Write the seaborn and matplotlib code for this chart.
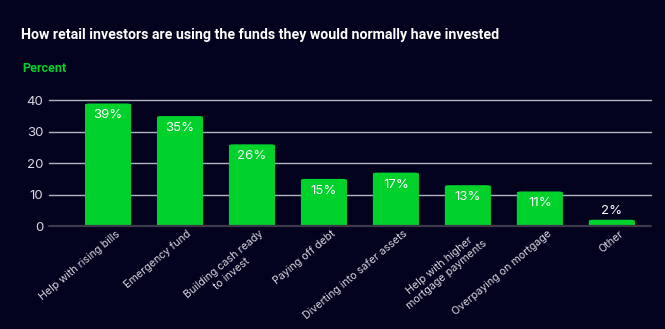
import matplotlib
matplotlib.use("Agg")
import matplotlib.pyplot as plt
import matplotlib.transforms as mtransforms
from matplotlib.patches import FancyBboxPatch
import seaborn as sns
import pandas as pd

categories = ["Help with rising bills", "Emergency fund", "Building cash ready\nto invest",
              "Paying off debt", "Diverting into safer assets",
              "Help with higher\nmortgage payments", "Overpaying on mortgage", "Other"]
values = [39, 35, 26, 15, 17, 13, 11, 2]
yticks = [0, 10, 20, 30, 40]

BG = "#03021e"
GREEN = "#00d12b"
TXT = "#d9d9e0"

sns.set_theme(style="white")
plt.rcParams['font.family'] = ['Inter', 'DejaVu Sans']

df = pd.DataFrame({"cat": categories, "val": values})
fig = plt.figure(figsize=(6.65, 3.29), dpi=100, facecolor=BG)
ax = fig.add_axes([0.0737, 0.313, 0.9048, 0.382])
ax.set_facecolor(BG)
sns.barplot(data=df, x="cat", y="val", color=GREEN, width=0.64, saturation=1, ax=ax, zorder=3)

# rounded bars
for p in list(ax.patches):
    x, y, w, h = p.get_x(), p.get_y(), p.get_width(), p.get_height()
    p.remove()
    rb = FancyBboxPatch((x, y), w, h, boxstyle="round,pad=0,rounding_size=0.06",
                        mutation_aspect=6.5, facecolor=GREEN, edgecolor="none", zorder=3)
    ax.add_patch(rb)
    ax.add_patch(plt.Rectangle((x, y), w, min(h, 1.0), facecolor=GREEN, edgecolor="none", zorder=3))

for i, v in enumerate(values):
    if v >= 5:
        ax.text(i, v - 1.9, f"{v}%", ha="center", va="top", color="white", fontsize=9.5, zorder=4)
    else:
        ax.text(i, v + 1.0, f"{v}%", ha="center", va="bottom", color="white", fontsize=9.5, zorder=4)

ax.set_xlim(-0.82, 7.54)
ax.set_ylim(0, 40)
ax.set_yticks(yticks)
for t in yticks[1:]:
    ax.axhline(t, color="#b4b4be", lw=1.0, zorder=1, clip_on=False)
ax.axhline(0, color="#3a3a48", lw=1.6, zorder=4, clip_on=False)
for s in ax.spines.values():
    s.set_visible(False)
ax.tick_params(axis="y", length=0, pad=4, labelsize=9.5, labelcolor=TXT)
ax.tick_params(axis="x", length=0, pad=2, labelsize=7.7, labelcolor=TXT)
ax.set_xlabel("")
ax.set_ylabel("")
ax.set_xticks(range(len(categories)))
ax.set_xticklabels(categories, rotation=40, ha="right", rotation_mode="anchor", multialignment="center")
offset = mtransforms.ScaledTranslation(5/72, 0, fig.dpi_scale_trans)
for lab in ax.get_xticklabels():
    lab.set_transform(lab.get_transform() + offset)

fig.text(21/665, 1 - 35/329, "How retail investors are using the funds they would normally have invested",
         color="white", fontsize=10.2, fontweight="bold", va="center", ha="left",
         family=["Roboto", "DejaVu Sans"])
fig.text(22/665, 1 - 68/329, "Percent", color=GREEN, fontsize=9, fontweight="bold", va="center", ha="left",
         family=["Roboto", "DejaVu Sans"])

fig.savefig("out.png", dpi=100, facecolor=BG)
